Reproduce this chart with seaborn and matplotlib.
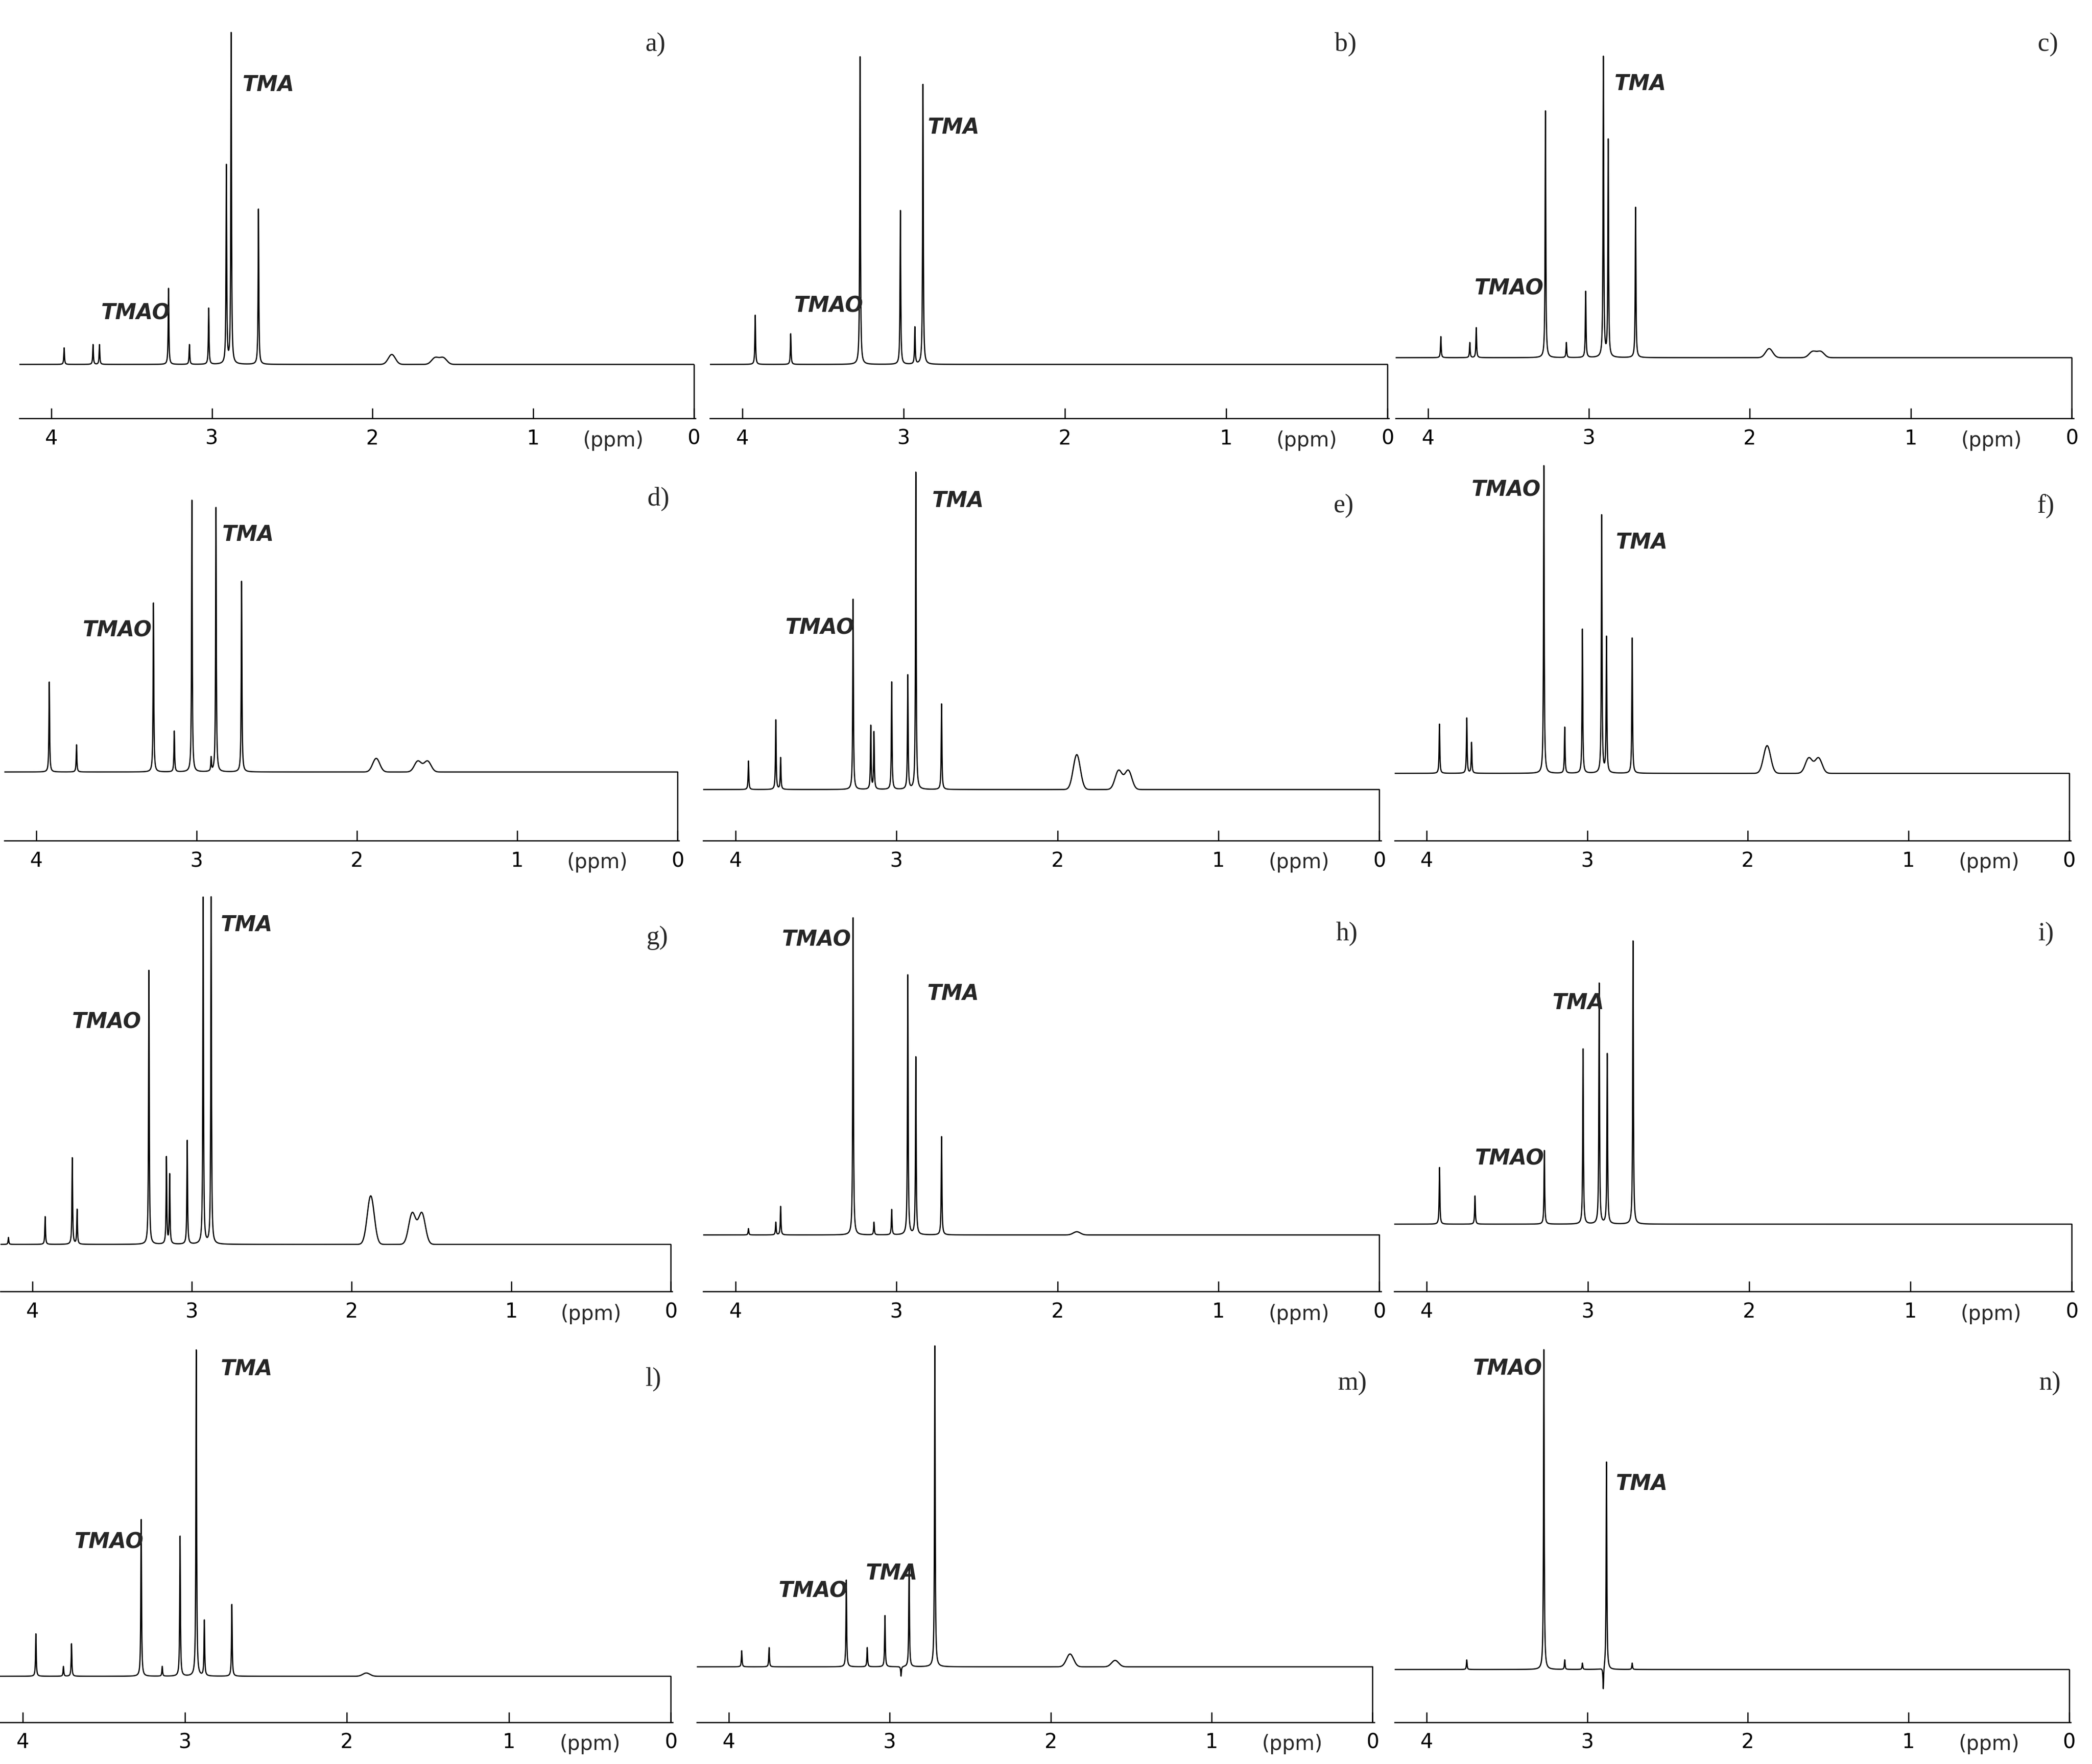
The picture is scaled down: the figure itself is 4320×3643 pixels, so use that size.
import numpy as np
import pandas as pd
import matplotlib
matplotlib.use("Agg")
import matplotlib.pyplot as plt
import matplotlib.transforms as mtransforms
import seaborn as sns

sns.set_theme(style="white")
plt.rcParams['font.family'] = ['DejaVu Sans']

# ---- data: peak positions (ppm) and relative heights per panel ----
panel_names = ["a)", "b)", "c)", "d)", "e)", "f)", "g)", "h)", "i)", "l)", "m)", "n)"]
peaks_ppm = {
    "a)": [3.92, 3.74, 3.70, 3.27, 3.14, 3.02, 2.91, 2.88, 2.71, 1.88, 1.61, 1.56],
    "b)": [3.92, 3.70, 3.27, 3.02, 2.93, 2.88],
    "c)": [3.92, 3.74, 3.70, 3.27, 3.14, 3.02, 2.91, 2.88, 2.71, 1.88, 1.61, 1.56],
    "d)": [3.92, 3.75, 3.27, 3.14, 3.03, 2.91, 2.88, 2.72, 1.88, 1.62, 1.56],
    "e)": [3.92, 3.75, 3.72, 3.27, 3.16, 3.14, 3.03, 2.93, 2.88, 2.72, 1.88, 1.62, 1.56],
    "f)": [3.92, 3.75, 3.72, 3.27, 3.14, 3.03, 2.91, 2.88, 2.72, 1.88, 1.62, 1.56],
    "g)": [4.15, 3.92, 3.75, 3.72, 3.27, 3.16, 3.14, 3.03, 2.93, 2.88, 1.88, 1.62, 1.56],
    "h)": [3.92, 3.75, 3.72, 3.27, 3.14, 3.03, 2.93, 2.88, 2.72, 1.88],
    "i)": [3.92, 3.70, 3.27, 3.03, 2.93, 2.88, 2.72],
    "l)": [3.92, 3.75, 3.70, 3.27, 3.14, 3.03, 2.93, 2.88, 2.71, 1.88],
    "m)": [3.92, 3.75, 3.27, 3.14, 3.03, 2.93, 2.88, 2.72, 1.88, 1.60],
    "n)": [3.75, 3.27, 3.14, 3.03, 2.90, 2.88, 2.72],
}
peaks_height = {
    "a)": [0.05, 0.06, 0.06, 0.23, 0.06, 0.17, 0.60, 1.00, 0.47, 0.03, 0.02, 0.02],
    "b)": [0.16, 0.10, 1.00, 0.50, 0.12, 0.91],
    "c)": [0.07, 0.05, 0.10, 0.82, 0.05, 0.22, 1.00, 0.72, 0.50, 0.03, 0.02, 0.02],
    "d)": [0.33, 0.10, 0.62, 0.15, 1.00, 0.05, 0.97, 0.70, 0.05, 0.04, 0.04],
    "e)": [0.09, 0.22, 0.10, 0.60, 0.20, 0.18, 0.34, 0.36, 1.00, 0.27, 0.11, 0.06, 0.06],
    "f)": [0.16, 0.18, 0.10, 1.00, 0.15, 0.47, 0.84, 0.44, 0.44, 0.09, 0.05, 0.05],
    "g)": [0.02, 0.08, 0.25, 0.10, 0.79, 0.25, 0.20, 0.30, 1.00, 1.00, 0.14, 0.09, 0.09],
    "h)": [0.02, 0.04, 0.09, 1.00, 0.04, 0.08, 0.82, 0.56, 0.31, 0.01],
    "i)": [0.20, 0.10, 0.26, 0.62, 0.85, 0.60, 1.00],
    "l)": [0.13, 0.03, 0.10, 0.48, 0.03, 0.43, 1.00, 0.17, 0.22, 0.01],
    "m)": [0.05, 0.06, 0.27, 0.06, 0.16, -0.03, 0.32, 1.00, 0.04, 0.02],
    "n)": [0.03, 1.00, 0.03, 0.02, -0.07, 0.65, 0.02],
}
broad_peaks = [1.88, 1.62, 1.61, 1.60, 1.56]
tmao_label = {"a)": (3.69, 0.155), "b)": (3.68, 0.19), "c)": (3.71, 0.23), "d)": (3.71, 0.52),
              "e)": (3.69, 0.51), "f)": (3.72, 0.92), "g)": (3.75, 0.64), "h)": (3.71, 0.93),
              "i)": (3.70, 0.23), "l)": (3.68, 0.41), "m)": (3.69, 0.235), "n)": (3.71, 0.94)}
tma_label = {"a)": (2.81, 0.845), "b)": (2.85, 0.77), "c)": (2.84, 0.91), "d)": (2.84, 0.87),
             "e)": (2.78, 0.91), "f)": (2.82, 0.75), "g)": (2.82, 0.92), "h)": (2.81, 0.76),
             "i)": (3.22, 0.78), "l)": (2.78, 0.94), "m)": (3.15, 0.29), "n)": (2.82, 0.58)}
tick_vals = [4, 3, 2, 1, 0]

# ---- layout (reference pixel geometry, 1550 x 1307 grid) ----
W, H = 1550.0, 1307.0
geom = {  # x4, x0, baseline, peak-top, axis_y, axes_top
    "a)": (38, 514, 270, 25, 310, 15), "b)": (550, 1028, 270, 42, 310, 15),
    "c)": (1058, 1535, 265, 42, 310, 15),
    "d)": (27, 502, 572, 370, 623, 340), "e)": (545, 1022, 585, 350, 623, 340),
    "f)": (1057, 1533, 573, 345, 623, 340),
    "g)": (24, 497, 922, 665, 957, 655), "h)": (545, 1022, 915, 680, 957, 655),
    "i)": (1057, 1535, 907, 697, 957, 655),
    "l)": (17, 497, 1242, 1000, 1276, 990), "m)": (540, 1017, 1235, 997, 1276, 990),
    "n)": (1057, 1533, 1237, 1000, 1276, 990),
}
letter_pos = {"a)": (493, 33), "b)": (1005, 33), "c)": (1525, 33), "d)": (496, 370),
              "e)": (1003, 375), "f)": (1522, 375), "g)": (495, 695), "h)": (1006, 692),
              "i)": (1522, 692), "l)": (490, 1022), "m)": (1013, 1025), "n)": (1527, 1025)}

fig = plt.figure(figsize=(14.4, 3643 / 300))
x = np.linspace(4.2, 0.0, 12000)

for name in panel_names:
    x4, x0, base, top, axy, atop = geom[name]
    s = (x0 - x4) / 4.0
    left_px = x4 - 0.2 * s
    right_px = x0 + 0.01 * s
    ax = fig.add_axes([left_px / W, 1 - axy / H, (right_px - left_px) / W, (axy - atop) / H])
    y = np.zeros_like(x)
    for p, h in zip(peaks_ppm[name], peaks_height[name]):
        if p in broad_peaks:
            w = 0.022
            y += h * np.exp(-0.5 * ((x - p) / w) ** 2)
        else:
            w = 0.0025
            y += h * w**2 / ((x - p) ** 2 + w**2)
    df = pd.DataFrame({"ppm": x, "intensity": y})
    sns.lineplot(data=df, x="ppm", y="intensity", ax=ax, color="black", lw=0.6,
                 estimator=None, sort=False)
    pps = base - top
    ymin = -(axy - base) / pps
    ymax = (base - atop) / pps
    ax.set_xlim(4.2, -0.01)
    ax.set_ylim(ymin, ymax)
    ax.plot([0, 0], [ymin, 0], color="black", lw=0.6)
    for sp in ["top", "left", "right"]:
        ax.spines[sp].set_visible(False)
    ax.spines["bottom"].set_linewidth(0.6)
    ax.spines["bottom"].set_color("black")
    ax.set_xticks(tick_vals)
    ax.set_xticklabels([str(t) for t in tick_vals], fontsize=10)
    ax.tick_params(axis="x", direction="in", length=5, width=0.6, pad=5, bottom=True, colors="black")
    ax.set_yticks([])
    ax.set_xlabel("")
    ax.set_ylabel("")
    trans = mtransforms.blended_transform_factory(ax.transData, ax.transAxes)
    ax.text(0.5, -0.03, "(ppm)", fontsize=10, ha="center", va="top", transform=trans)
    tx, ty = tmao_label[name]
    ax.text(tx, ty, "TMAO", fontsize=10.5, fontweight="bold", fontstyle="italic", ha="left", va="center")
    tx, ty = tma_label[name]
    ax.text(tx, ty, "TMA", fontsize=10.5, fontweight="bold", fontstyle="italic", ha="left", va="center")
    lx, ly = letter_pos[name]
    fig.text(lx / W, 1 - ly / H, name, fontsize=13, family="Liberation Serif", ha="right", va="center")

fig.savefig("out.png", dpi=300, facecolor="white")
